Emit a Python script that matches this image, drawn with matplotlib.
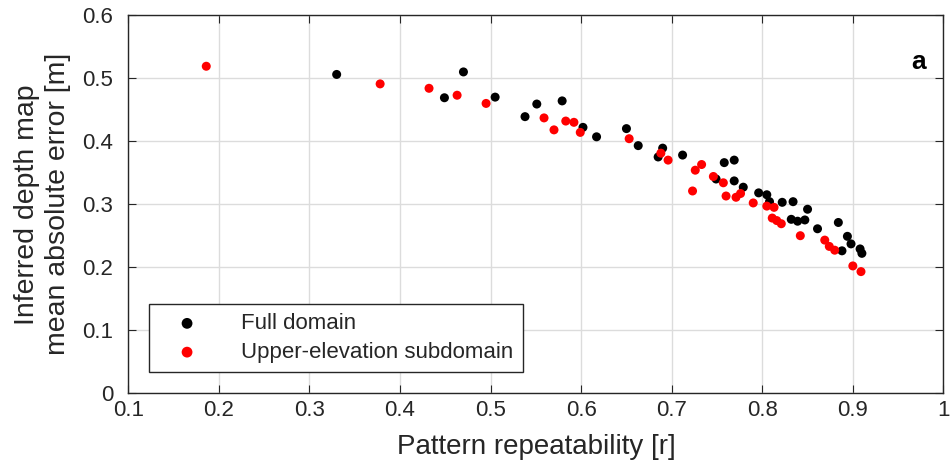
import matplotlib
matplotlib.use("Agg")
import matplotlib.pyplot as plt

# Full domain (black)
full_r = [0.330, 0.449, 0.470, 0.505, 0.538, 0.551, 0.579, 0.602, 0.617, 0.650,
          0.663, 0.690, 0.685, 0.712, 0.758, 0.769, 0.749, 0.769, 0.779, 0.796,
          0.805, 0.808, 0.822, 0.834, 0.850, 0.832, 0.839, 0.847, 0.861, 0.884,
          0.894, 0.898, 0.908, 0.910, 0.888]
full_mae = [0.506, 0.469, 0.510, 0.470, 0.439, 0.459, 0.464, 0.422, 0.407, 0.420,
            0.393, 0.389, 0.375, 0.378, 0.366, 0.370, 0.340, 0.337, 0.327, 0.318,
            0.315, 0.304, 0.303, 0.304, 0.292, 0.276, 0.273, 0.275, 0.261, 0.271,
            0.249, 0.237, 0.229, 0.222, 0.226]

# Upper-elevation subdomain (red)
upper_r = [0.186, 0.378, 0.432, 0.463, 0.495, 0.559, 0.570, 0.583, 0.592, 0.599,
           0.653, 0.688, 0.696, 0.726, 0.733, 0.723, 0.746, 0.757, 0.760, 0.771,
           0.776, 0.790, 0.805, 0.813, 0.811, 0.816, 0.821, 0.842, 0.869, 0.874,
           0.880, 0.900, 0.909]
upper_mae = [0.519, 0.491, 0.484, 0.473, 0.460, 0.437, 0.418, 0.432, 0.430, 0.414,
             0.404, 0.381, 0.370, 0.354, 0.363, 0.321, 0.344, 0.334, 0.313, 0.311,
             0.317, 0.302, 0.297, 0.295, 0.278, 0.274, 0.269, 0.250, 0.243, 0.233,
             0.227, 0.202, 0.193]

xticks = [0.1, 0.2, 0.3, 0.4, 0.5, 0.6, 0.7, 0.8, 0.9, 1.0]
xtick_labels = ["0.1", "0.2", "0.3", "0.4", "0.5", "0.6", "0.7", "0.8", "0.9", "1"]
yticks = [0, 0.1, 0.2, 0.3, 0.4, 0.5, 0.6]
ytick_labels = ["0", "0.1", "0.2", "0.3", "0.4", "0.5", "0.6"]

plt.rcParams["font.family"] = ["Liberation Sans", "DejaVu Sans"]
txt = "#262626"

fig = plt.figure(figsize=(9.51, 4.76), dpi=100)
ax = fig.add_axes([0.135, 0.174, 0.857, 0.794])

ax.scatter(full_r, full_mae, s=42, c="black", edgecolors="none", label="Full domain", zorder=3)
ax.scatter(upper_r, upper_mae, s=42, c="red", edgecolors="none",
           label="Upper-elevation subdomain", zorder=3)

ax.set_xlim(0.1, 1.0)
ax.set_ylim(0, 0.6)
ax.set_xticks(xticks)
ax.set_xticklabels(xtick_labels)
ax.set_yticks(yticks)
ax.set_yticklabels(ytick_labels)
ax.grid(True, color="#dcdcdc", linewidth=1)
ax.set_axisbelow(True)
ax.tick_params(direction="in", length=6, top=True, right=True,
               labelsize=16, colors=txt)
ax.tick_params(axis="x", pad=5)
ax.tick_params(axis="y", pad=11)
for sp in ax.spines.values():
    sp.set_color(txt)
    sp.set_linewidth(1)

ax.set_xlabel("Pattern repeatability [r]", fontsize=20, color=txt, labelpad=9)
ax.set_ylabel("Inferred depth map\nmean absolute error [m]", fontsize=20.5, color=txt,
              labelpad=8, linespacing=1.25)

ax.text(0.978, 0.875, "a", transform=ax.transAxes, ha="right", va="center",
        fontsize=19, fontweight="bold", color="black")

leg = ax.legend(loc="lower left", bbox_to_anchor=(0.012, 0.027), fontsize=16,
                frameon=True, fancybox=False, edgecolor=txt, framealpha=1,
                handlelength=2.6, handletextpad=1.15, borderpad=0.4,
                labelspacing=0.35, markerscale=1.2)
leg.get_frame().set_linewidth(1)
for t in leg.get_texts():
    t.set_color(txt)

fig.savefig("out.png", dpi=100)
